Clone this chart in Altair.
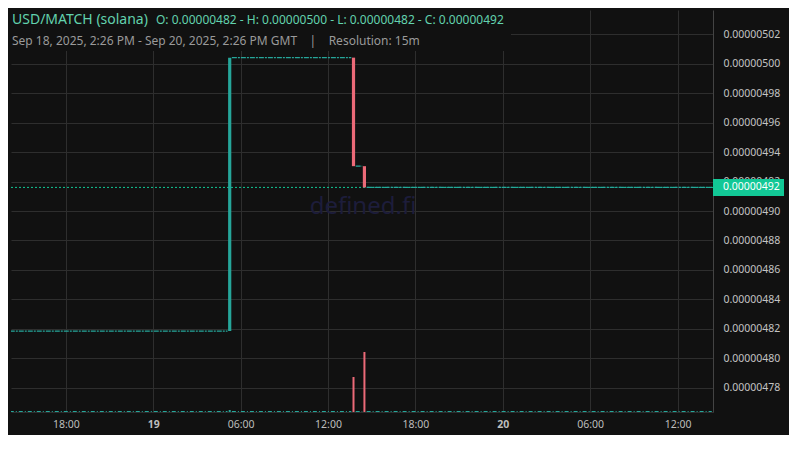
import altair as alt
import pandas as pd

# ---- data ----
# candles that have a real body (open != close)
candle_time = ["2025-09-19T05:15:00Z", "2025-09-19T13:45:00Z", "2025-09-19T14:30:00Z"]
candle_open = [4.8186e-6, 5.0040e-6, 4.9304e-6]
candle_close = [5.0040e-6, 4.9304e-6, 4.9160e-6]
candle_volume = [2, 35, 60]

# runs of flat candles (open == close)
flat_start = ["2025-09-18T14:15:00Z", "2025-09-19T05:30:00Z", "2025-09-19T14:00:00Z", "2025-09-19T14:45:00Z"]
flat_end = ["2025-09-19T05:00:00Z", "2025-09-19T13:30:00Z", "2025-09-19T14:15:00Z", "2025-09-20T14:15:00Z"]
flat_price = [4.8186e-6, 5.0040e-6, 4.9304e-6, 4.9160e-6]

last_price = 4.9160e-6

y_ticks = [4.78e-6, 4.80e-6, 4.82e-6, 4.84e-6, 4.86e-6, 4.88e-6, 4.90e-6,
           4.92e-6, 4.94e-6, 4.96e-6, 4.98e-6, 5.00e-6, 5.02e-6]
x_ticks = ["2025-09-18T18:00:00Z", "2025-09-19T00:00:00Z", "2025-09-19T06:00:00Z",
           "2025-09-19T12:00:00Z", "2025-09-19T18:00:00Z", "2025-09-20T00:00:00Z",
           "2025-09-20T06:00:00Z", "2025-09-20T12:00:00Z"]
x_range = ["2025-09-18T14:14:00Z", "2025-09-20T14:26:00Z"]
y_range = [4.7637e-6, 5.0363e-6]

NB = "\u00a0"
title_main = "USD/MATCH (solana)"
title_ohlc = "O: 0.00000482 - H: 0.00000500 - L: 0.00000482 - C: 0.00000492"
subtitle = "Sep 18, 2025, 2:26 PM - Sep 20, 2025, 2:26 PM GMT" + NB * 4 + "|" + NB * 4 + "Resolution: 15m"
watermark = "defined.fi"

# ---- tables ----
def ms(s):
    return int(pd.Timestamp(s).value // 10**6)

def iso(ts):
    return ts.strftime("%Y-%m-%dT%H:%M:%SZ")

candles = pd.DataFrame({
    "t": candle_time, "open": candle_open, "close": candle_close, "vol": candle_volume,
})
candles["dir"] = ["up" if c >= o else "down" for o, c in zip(candle_open, candle_close)]

half = pd.Timedelta(minutes=6)
flats = pd.DataFrame({
    "s": [iso(pd.Timestamp(s) - half) for s in flat_start],
    "e": [iso(pd.Timestamp(e) + half) for e in flat_end],
    "price": flat_price,
    "vol": [0] * len(flat_price),
})
last_df = pd.DataFrame({"price": [last_price]})
one = pd.DataFrame({"a": [0]})

BG = "#111111"
UP = "#26a69a"
DOWN = "#ef5350"
VOL_DOWN = "#ec6a78"
LAST = "#12c896"
FONT = "Noto Sans"

xscale = alt.Scale(type="utc", domain=[ms(x_range[0]), ms(x_range[1])], nice=False, padding=0)
yscale = alt.Scale(domain=y_range, nice=False, zero=False, padding=0)
vscale = alt.Scale(domain=[0, 402], nice=False, zero=True, padding=0)

x_axis = alt.Axis(
    values=[ms(v) for v in x_ticks],
    labelExpr="utchours(datum.value) == 0 ? utcFormat(datum.value, '%d') : utcFormat(datum.value, '%H:%M')",
    labelFontWeight={"condition": {"test": "utchours(datum.value) == 0", "value": "bold"}, "value": "normal"},
    title=None, ticks=False, labelPadding=7, labelColor="#bdbdbd", labelFontSize=10.5,
    labelFont=FONT, grid=True, gridColor="#2e2e2e", domainColor="#2e2e2e",
)
y_axis = alt.Axis(
    orient="right", values=y_ticks, format=".8f", title=None, ticks=False,
    labelPadding=10, labelColor="#c4c4c4", labelFontSize=10.5, labelFont=FONT,
    grid=True, gridColor="#2e2e2e", domainColor="#444444",
)


def X(field):
    return alt.X(field, scale=xscale, axis=x_axis)


def Y(field):
    return alt.Y(field, scale=yscale, axis=y_axis)


# watermark
wm = alt.Chart(one).mark_text(
    text=watermark, font=FONT, fontSize=24, color="#1d1d3b", align="center", baseline="middle"
).encode(x=alt.value(352), y=alt.value(197))

# volume
vol_zero = alt.Chart(flats).mark_rule(
    color=UP, strokeWidth=1, strokeDash=[4, 2, 1, 2], clip=True, yOffset=-0.5
).encode(
    x=X("s:T"),
    x2="e:T",
    y=alt.Y("vol:Q", scale=vscale, axis=None),
)
vol_bars = alt.Chart(candles).mark_bar(size=2).encode(
    x=X("t:T"),
    y=alt.Y("vol:Q", scale=vscale, axis=None),
    color=alt.Color("dir:N", scale=alt.Scale(domain=["up", "down"], range=[UP, VOL_DOWN]), legend=None),
)
volume = alt.layer(vol_zero, vol_bars)

# price
price_line = alt.Chart(last_df).mark_rule(color=LAST, strokeWidth=1, strokeDash=[2, 2]).encode(
    x=alt.value(0), x2=alt.value(702),
    y=Y("price:Q"),
)
flat_rules = alt.Chart(flats).mark_rule(
    color=UP, strokeWidth=1.2, strokeDash=[5, 1, 2, 1], clip=True
).encode(
    x=X("s:T"),
    x2="e:T",
    y=Y("price:Q"),
)
bodies = alt.Chart(candles).mark_bar(size=3.2).encode(
    x=X("t:T"),
    y=Y("open:Q"),
    y2="close:Q",
    color=alt.Color("dir:N", scale=alt.Scale(domain=["up", "down"], range=[UP, DOWN]), legend=None),
)
label_box = alt.Chart(last_df).mark_rect(color=LAST, yOffset=-8.5, y2Offset=8.5).encode(
    x=alt.value(702), x2=alt.value(773),
    y=Y("price:Q"),
    y2="price:Q",
)
label_text = alt.Chart(last_df).mark_text(
    align="left", baseline="middle", color="#ffffff", fontSize=10.5, font=FONT
).encode(
    x=alt.value(712),
    y=Y("price:Q"),
    text=alt.Text("price:Q", format=".8f"),
)
price = alt.layer(price_line, flat_rules, bodies, label_box, label_text)

# header
head_box = alt.Chart(one).mark_rect(color=BG).encode(
    x=alt.value(0), x2=alt.value(500), y=alt.value(0), y2=alt.value(41)
)
head1 = alt.Chart(one).mark_text(
    text=title_main, font=FONT, fontSize=14, color="#62d2ae", align="left", baseline="middle"
).encode(x=alt.value(1), y=alt.value(10))
head2 = alt.Chart(one).mark_text(
    text=title_ohlc, font=FONT, fontSize=12, color="#62d2ae", align="left", baseline="middle"
).encode(x=alt.value(145), y=alt.value(10))
head3 = alt.Chart(one).mark_text(
    text=subtitle, font=FONT, fontSize=12, color="#9a9a9a", align="left", baseline="middle"
).encode(x=alt.value(1), y=alt.value(31))

chart = alt.layer(wm, volume, price, head_box, head1, head2, head3).resolve_scale(
    y="independent"
).properties(
    width=702, height=402, background=BG,
    padding={"left": 2, "top": 2, "right": 5, "bottom": 5},
).configure_view(stroke=None)

chart.save("out.html", embed_options={"renderer": "svg", "actions": False})
